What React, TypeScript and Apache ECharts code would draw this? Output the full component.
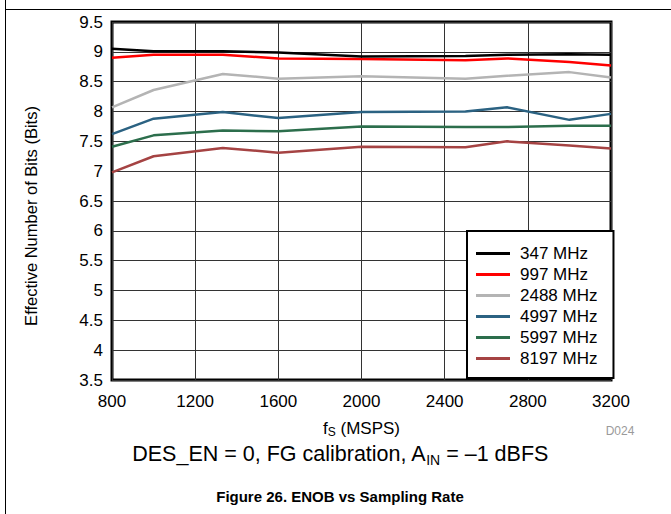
import React, { useEffect, useRef } from 'react';
import * as echarts from 'echarts';

const fsMsps = [800, 1000, 1333, 1600, 2000, 2500, 2700, 3000, 3200];
const enob347 = [9.05, 9.01, 9.01, 8.99, 8.92, 8.93, 8.95, 8.96, 8.95];
const enob997 = [8.9, 8.95, 8.95, 8.89, 8.88, 8.86, 8.89, 8.83, 8.77];
const enob2488 = [8.07, 8.36, 8.63, 8.55, 8.59, 8.55, 8.6, 8.66, 8.57];
const enob4997 = [7.62, 7.88, 7.99, 7.89, 7.99, 8.0, 8.07, 7.86, 7.96];
const enob5997 = [7.41, 7.6, 7.68, 7.67, 7.75, 7.74, 7.74, 7.76, 7.76];
const enob8197 = [6.98, 7.25, 7.39, 7.31, 7.41, 7.4, 7.5, 7.43, 7.38];

const seriesNames = ['347 MHz', '997 MHz', '2488 MHz', '4997 MHz', '5997 MHz', '8197 MHz'];
const seriesValues = [enob347, enob997, enob2488, enob4997, enob5997, enob8197];
const seriesColors = ['#000000', '#ff0000', '#b4b4b4', '#2b6282', '#2c6e4c', '#a54343'];

const FONT = "'Liberation Sans', Arial, Helvetica, sans-serif";

export default function App() {
  const ref = useRef<HTMLDivElement>(null);
  useEffect(() => {
    const chart = echarts.init(ref.current!, null, { renderer: 'svg' });
    chart.setOption({
      animation: false,
      backgroundColor: '#ffffff',
      textStyle: { fontFamily: FONT },
      grid: {
        left: 112,
        top: 22,
        width: 499,
        height: 358,
        show: true,
        borderColor: '#000',
        borderWidth: 3,
        backgroundColor: 'transparent',
        containLabel: false,
      },
      xAxis: {
        type: 'value',
        min: 800,
        max: 3200,
        interval: 400,
        axisLine: { show: false },
        axisTick: { show: false },
        splitLine: { show: true, lineStyle: { color: '#333', width: 1 } },
        axisLabel: {
          fontSize: 17,
          color: '#000',
          margin: 13,
          fontFamily: FONT,
          formatter: (v: number) => String(v),
        },
        name: '{a|f}{b|S}{a| (MSPS)}',
        nameLocation: 'middle',
        nameGap: 38,
        nameTextStyle: {
          rich: {
            a: { fontSize: 17, color: '#000', fontFamily: FONT, lineHeight: 20, verticalAlign: 'middle' },
            b: { fontSize: 12, color: '#000', fontFamily: FONT, lineHeight: 12, verticalAlign: 'bottom' },
          },
        },
      },
      yAxis: {
        type: 'value',
        min: 3.5,
        max: 9.5,
        interval: 0.5,
        axisLine: { show: false },
        axisTick: { show: false },
        splitLine: { show: true, lineStyle: { color: '#333', width: 1 } },
        axisLabel: { fontSize: 17, color: '#000', margin: 9, fontFamily: FONT },
      },
      legend: {
        left: 467,
        top: 231,
        orient: 'vertical',
        padding: [14, 16, 11, 9],
        itemGap: 4,
        itemWidth: 34,
        itemHeight: 3,
        icon: 'rect',
        backgroundColor: '#fff',
        borderColor: '#000',
        borderWidth: 2,
        borderRadius: 0,
        textStyle: { fontSize: 17, color: '#000', fontFamily: FONT, padding: [0, 0, 0, 5] },
        data: seriesNames,
      },
      series: seriesNames.map((name, i) => ({
        name,
        type: 'line',
        symbol: 'none',
        data: fsMsps.map((x, j) => [x, seriesValues[i][j]]),
        lineStyle: { color: seriesColors[i], width: 2.5 },
        itemStyle: { color: seriesColors[i] },
        z: 10 - i,
      })),
      graphic: [
        { type: 'line', shape: { x1: 5.5, y1: 0, x2: 5.5, y2: 514 }, style: { stroke: '#000', lineWidth: 1 } },
        { type: 'line', shape: { x1: 5, y1: 9.5, x2: 671, y2: 9.5 }, style: { stroke: '#000', lineWidth: 1 } },
        {
          type: 'text',
          x: 31,
          y: 216,
          rotation: Math.PI / 2,
          style: {
            text: 'Effective Number of Bits (Bits)',
            fontSize: 16.5,
            fill: '#000',
            fontFamily: FONT,
            align: 'center',
            verticalAlign: 'middle',
          },
        },
        {
          type: 'text',
          x: 620,
          y: 431,
          style: { text: 'D024', fontSize: 12, fill: '#9a9a9a', fontFamily: FONT, align: 'center', verticalAlign: 'middle' },
        },
        {
          type: 'text',
          x: 340,
          y: 454,
          style: {
            text: '{a|DES_EN = 0, FG calibration, A}{b|IN}{a| = \u20131 dBFS}',
            align: 'center',
            verticalAlign: 'middle',
            rich: {
              a: { fontSize: 21.5, fill: '#000', fontFamily: FONT, lineHeight: 26, verticalAlign: 'middle' },
              b: { fontSize: 14, fill: '#000', fontFamily: FONT, lineHeight: 14, verticalAlign: 'bottom' },
            },
          },
        },
        {
          type: 'text',
          x: 340,
          y: 496,
          style: {
            text: 'Figure 26. ENOB vs Sampling Rate',
            fontSize: 15,
            fontWeight: 'bold',
            fill: '#000',
            fontFamily: FONT,
            align: 'center',
            verticalAlign: 'middle',
          },
        },
      ],
    });
    return () => chart.dispose();
  }, []);
  return (
    <div
      ref={ref}
      style={{ position: 'absolute', left: 0, top: 0, width: 671, height: 514, background: '#fff' }}
    />
  );
}
